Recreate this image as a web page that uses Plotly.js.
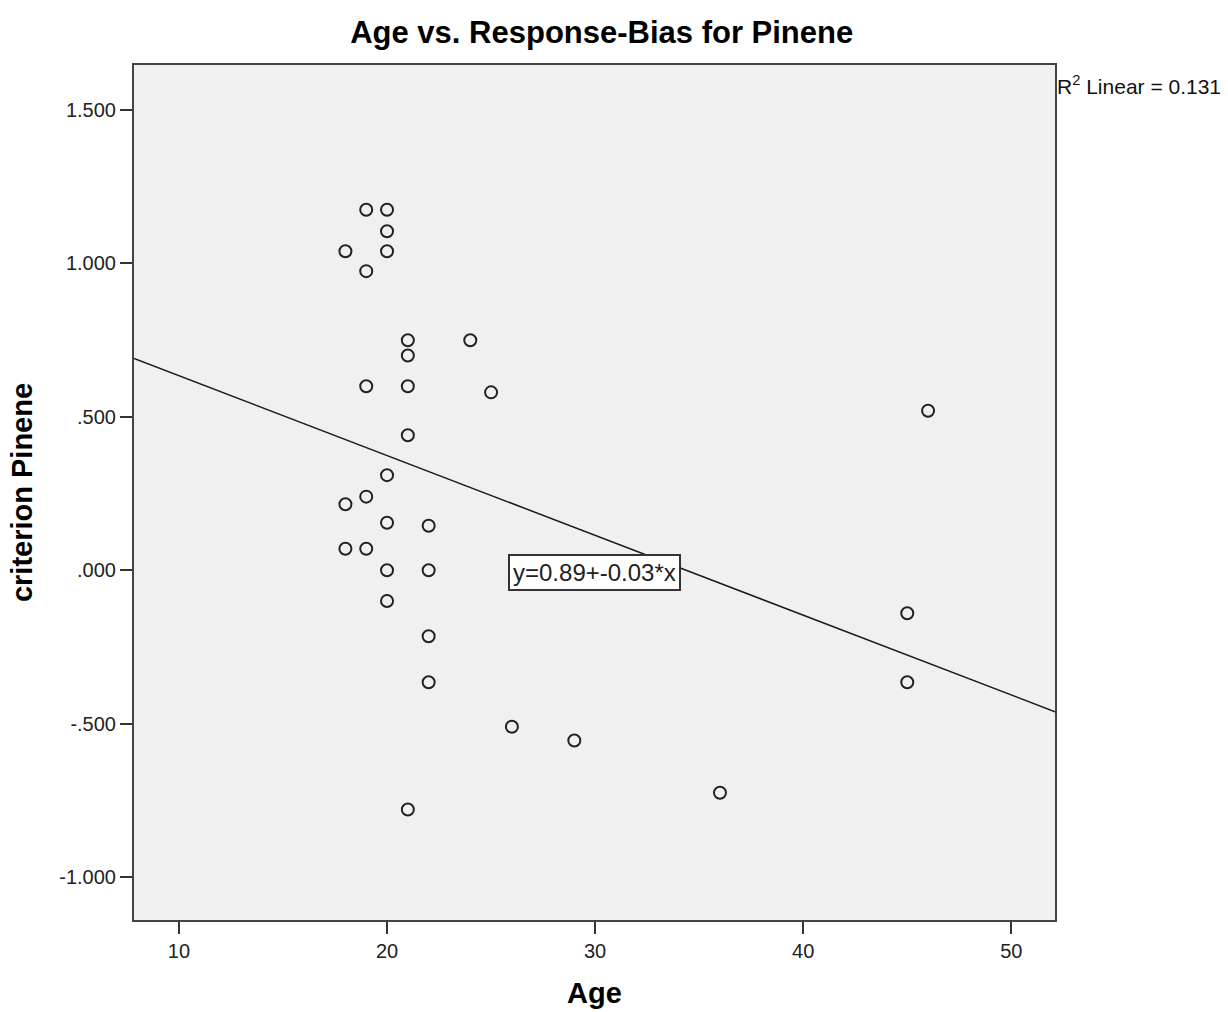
<!DOCTYPE html>
<html>
<head>
<meta charset="utf-8">
<script src="https://cdn.plot.ly/plotly-3.0.1.min.js"></script>
<style>html,body{margin:0;padding:0;background:#fff;}#chart{width:1228px;height:1012px;}</style>
</head>
<body>
<div id="chart"></div>
<script>
const age = [18, 18, 18, 19, 19, 19, 19, 19, 20, 20, 20, 20, 20, 20, 20, 21, 21, 21, 21, 21, 22, 22, 22, 22, 24, 25, 26, 29, 36, 45, 45, 46];
const criterion = [1.04, 0.215, 0.07, 1.175, 0.975, 0.60, 0.24, 0.07, 1.175, 1.105, 1.04, 0.31, 0.155, 0.0, -0.10, 0.75, 0.70, 0.60, 0.44, -0.78, 0.145, 0.0, -0.215, -0.365, 0.75, 0.58, -0.51, -0.555, -0.725, -0.14, -0.365, 0.52];
const xTickVals = [10, 20, 30, 40, 50];
const yTickVals = [1.5, 1.0, 0.5, 0.0, -0.5, -1.0];
const yTickText = ["1.500", "1.000", ".500", ".000", "-.500", "-1.000"];
const xRange = [7.84, 52.1];
const yRange = [-1.14, 1.647];
const titleText = "Age vs. Response-Bias for Pinene";
const xTitle = "Age";
const yTitle = "criterion Pinene";
const equationText = "y=0.89+-0.03*x";
const r2Text = "R<sup>2</sup> Linear = 0.131";

// least squares fit from the data
const n = age.length;
const mx = age.reduce((a, b) => a + b, 0) / n;
const my = criterion.reduce((a, b) => a + b, 0) / n;
let sxy = 0, sxx = 0;
for (let i = 0; i < n; i++) { sxy += (age[i] - mx) * (criterion[i] - my); sxx += (age[i] - mx) ** 2; }
const slope = sxy / sxx;
const intercept = my - slope * mx;
const fitX = xRange.slice();
const fitY = fitX.map(x => intercept + slope * x);

const font = "Liberation Sans, Arial, sans-serif";
const traces = [
  {x: fitX, y: fitY, mode: "lines", line: {color: "#1a1a1a", width: 1.5}, hoverinfo: "skip", showlegend: false},
  {x: age, y: criterion, mode: "markers", type: "scatter", showlegend: false,
   marker: {symbol: "circle-open", size: 12, color: "#222", line: {width: 2, color: "#222"}}}
];
const layout = {
  width: 1228, height: 1012,
  margin: {l: 134, r: 173, t: 65, b: 92},
  paper_bgcolor: "#ffffff", plot_bgcolor: "#f0f0f0",
  font: {family: font, color: "#1a1a1a", size: 20},
  title: {text: "<b>" + titleText + "</b>", x: 0.49, xref: "container", xanchor: "center", y: 0.968, yanchor: "middle", font: {size: 31, color: "#000"}},
  xaxis: {range: xRange, tickvals: xTickVals, ticks: "outside", ticklen: 12, tickwidth: 2, tickcolor: "#333",
          showgrid: false, zeroline: false, showline: true, linecolor: "#444", linewidth: 2, mirror: true,
          tickfont: {size: 20, color: "#222"},
          title: {text: "<b>" + xTitle + "</b>", font: {size: 29, color: "#000"}, standoff: 22}},
  yaxis: {range: yRange, tickvals: yTickVals, ticktext: yTickText, ticks: "outside", ticklen: 12, tickwidth: 2, tickcolor: "#333",
          showgrid: false, zeroline: false, showline: true, linecolor: "#444", linewidth: 2, mirror: true,
          tickfont: {size: 20, color: "#222"},
          title: {text: "<b>" + yTitle + "</b>", font: {size: 29, color: "#000"}, standoff: 18}},
  annotations: [
    {text: equationText, xref: "paper", yref: "paper", x: 0.5, y: 0.406, xanchor: "center", yanchor: "middle",
     showarrow: false, bgcolor: "#ffffff", bordercolor: "#333", borderwidth: 2, borderpad: 3, font: {size: 24, color: "#222"}},
    {text: r2Text, xref: "paper", yref: "paper", x: 1, y: 0.977, xanchor: "left", yanchor: "middle",
     showarrow: false, font: {size: 21, color: "#111"}}
  ]
};
Plotly.newPlot("chart", traces, layout, {displayModeBar: false, staticPlot: true});
</script>
</body>
</html>
